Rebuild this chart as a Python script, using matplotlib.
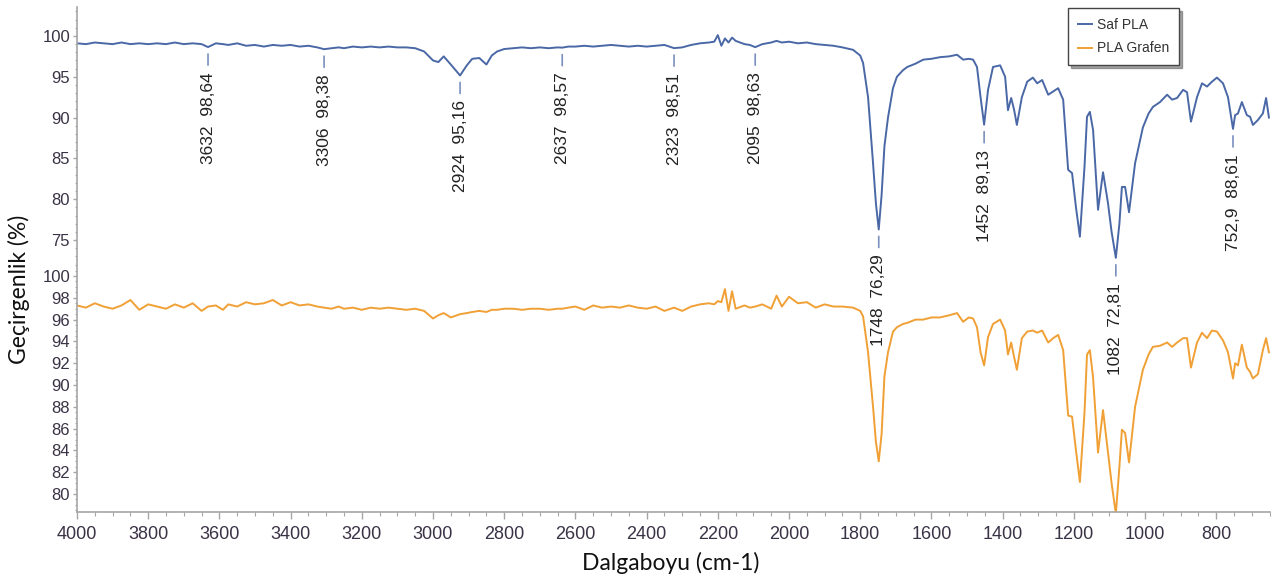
import matplotlib
matplotlib.use('Agg')
import matplotlib.pyplot as plt
from matplotlib.ticker import MultipleLocator

# Wavenumbers (cm-1), shared by both spectra
dalga = [
    4000, 3975, 3950, 3925, 3900, 3875, 3850, 3825, 3800, 3775,
    3750, 3725, 3700, 3675, 3650, 3632, 3610, 3590, 3575, 3550,
    3525, 3500, 3475, 3450, 3425, 3400, 3375, 3350, 3325, 3306,
    3285, 3265, 3250, 3225, 3200, 3175, 3150, 3125, 3100, 3075,
    3050, 3025, 3000, 2985, 2970, 2950, 2924, 2905, 2890, 2870,
    2850, 2835, 2820, 2800, 2775, 2750, 2725, 2700, 2675, 2650,
    2637, 2620, 2600, 2575, 2550, 2525, 2500, 2475, 2450, 2425,
    2400, 2375, 2350, 2323, 2300, 2275, 2250, 2225, 2210, 2200,
    2190, 2180, 2170, 2160, 2150, 2125, 2110, 2095, 2075, 2050,
    2035, 2020, 2000, 1975, 1950, 1925, 1900, 1875, 1850, 1820,
    1800, 1792, 1778, 1764, 1756, 1748, 1740, 1732, 1722, 1708,
    1697, 1680, 1668, 1645, 1623, 1600, 1576, 1550, 1528, 1511,
    1495, 1483, 1472, 1462, 1452, 1441, 1427, 1407, 1393, 1385,
    1376, 1368, 1360, 1346, 1331, 1315, 1303, 1289, 1272, 1258,
    1244, 1230, 1216, 1205, 1194, 1183, 1170, 1163, 1155, 1146,
    1132, 1118, 1104, 1094, 1082, 1072, 1065, 1056, 1045, 1028,
    1006, 990, 978, 958, 938, 924, 910, 893, 882, 871,
    854, 840, 826, 812, 798, 781, 767, 752.9, 747, 739,
    728, 714, 705, 697, 683, 669, 660, 652,
]

# Transmittance (%) - Saf PLA
saf_pla = [
    99.1, 99.0, 99.2, 99.1, 99.0, 99.2, 99.0, 99.1, 99.0, 99.1,
    99.0, 99.2, 99.0, 99.1, 99.0, 98.64, 99.1, 99.0, 98.9, 99.1,
    98.8, 98.9, 98.7, 98.9, 98.8, 98.9, 98.7, 98.8, 98.6, 98.38,
    98.5, 98.6, 98.5, 98.7, 98.6, 98.7, 98.6, 98.7, 98.6, 98.6,
    98.5, 98.1, 97.0, 96.8, 97.5, 96.5, 95.16, 96.4, 97.2, 97.3,
    96.5, 97.6, 98.1, 98.4, 98.5, 98.6, 98.5, 98.6, 98.5, 98.6,
    98.57, 98.7, 98.7, 98.8, 98.7, 98.8, 98.9, 98.8, 98.7, 98.8,
    98.7, 98.8, 98.9, 98.51, 98.6, 98.9, 99.1, 99.2, 99.3, 100.1,
    98.8, 99.7, 99.2, 99.8, 99.4, 99.0, 98.9, 98.63, 99.0, 99.2,
    99.4, 99.2, 99.3, 99.1, 99.2, 99.0, 98.9, 98.8, 98.6, 98.3,
    97.6, 96.7, 92.5, 84.4, 79.5, 76.29, 80.5, 86.5, 90.0, 93.6,
    95.0, 95.8, 96.2, 96.6, 97.1, 97.2, 97.4, 97.5, 97.7, 97.1,
    97.2, 97.1, 96.2, 92.5, 89.13, 93.4, 96.2, 96.4, 95.0, 90.9,
    92.4, 91.0, 89.1, 92.5, 94.4, 94.9, 94.2, 94.6, 92.8, 93.2,
    93.6, 92.2, 83.6, 83.2, 79.0, 75.4, 84.0, 90.1, 90.7, 88.5,
    78.7, 83.3, 79.5, 76.0, 72.81, 77.0, 81.5, 81.5, 78.4, 84.4,
    88.8, 90.5, 91.3, 91.9, 92.8, 92.2, 92.4, 93.4, 93.1, 89.5,
    92.5, 94.2, 93.8, 94.4, 94.9, 94.2, 92.5, 88.61, 90.3, 90.5,
    91.9, 90.3, 90.1, 89.1, 89.7, 90.5, 92.4, 90.0,
]

# Transmittance (%) - PLA Grafen
pla_grafen = [
    97.3, 97.1, 97.5, 97.2, 97.0, 97.3, 97.8, 96.9, 97.4, 97.2,
    97.0, 97.4, 97.1, 97.5, 96.8, 97.2, 97.3, 96.9, 97.4, 97.2,
    97.6, 97.4, 97.5, 97.8, 97.3, 97.6, 97.3, 97.4, 97.2, 97.1,
    97.0, 97.2, 97.0, 97.1, 96.9, 97.1, 97.0, 97.1, 97.0, 96.9,
    97.0, 96.8, 96.1, 96.4, 96.6, 96.2, 96.5, 96.6, 96.7, 96.8,
    96.7, 96.9, 96.9, 97.0, 97.0, 96.9, 97.0, 97.0, 96.9, 97.0,
    97.0, 97.1, 97.2, 96.9, 97.3, 97.1, 97.2, 97.1, 97.3, 97.1,
    97.0, 97.2, 96.8, 97.1, 96.8, 97.2, 97.4, 97.5, 97.4, 97.7,
    97.6, 98.8, 96.8, 98.6, 97.0, 97.3, 97.1, 97.2, 97.4, 97.0,
    98.2, 97.2, 98.1, 97.5, 97.6, 97.1, 97.4, 97.2, 97.2, 97.1,
    96.8, 96.3, 93.0, 88.0, 84.8, 83.0, 85.5, 90.8, 93.0, 94.9,
    95.3, 95.6, 95.7, 96.0, 96.0, 96.2, 96.2, 96.4, 96.6, 95.8,
    96.2, 96.1, 95.3, 93.0, 91.8, 94.4, 95.6, 96.0, 95.0, 92.8,
    93.9, 92.6, 91.4, 94.3, 94.9, 95.0, 94.8, 95.0, 93.9, 94.3,
    94.6, 93.2, 87.2, 87.1, 84.0, 81.1, 87.5, 92.8, 93.2, 90.7,
    83.8, 87.7, 83.8, 81.0, 78.2, 82.5, 85.9, 85.6, 82.9, 88.0,
    91.4, 92.8, 93.5, 93.6, 93.9, 93.5, 93.9, 94.3, 94.3, 91.6,
    93.9, 94.8, 94.3, 95.0, 94.9, 94.1, 93.0, 90.6, 92.0, 91.8,
    93.7, 91.6, 91.2, 90.6, 91.0, 93.2, 94.3, 93.0,
]

# Labelled peaks of Saf PLA
pik_dalga = [3632, 3306, 2924, 2637, 2323, 2095, 1748, 1452, 1082, 752.9]
pik_deger = [98.64, 98.38, 95.16, 98.57, 98.51, 98.63, 76.29, 89.13, 72.81, 88.61]
pik_etiket = ['3632  98,64', '3306  98,38', '2924  95,16', '2637  98,57',
              '2323  98,51', '2095  98,63', '1748  76,29', '1452  89,13',
              '1082  72,81', '752,9  88,61']

MAVI = '#4a68a6'
TURUNCU = '#f0a035'
GRI = '#a6a6a6'
YAZI = '#3a3245'
TICK_FONT = ['Liberation Sans Narrow', 'Liberation Sans']

W, H = 1274, 580
fig = plt.figure(figsize=(W / 100, H / 100), dpi=100)
ax1 = fig.add_axes([77 / W, 1 - 259 / H, 1193 / W, 252 / H])
ax2 = fig.add_axes([77 / W, 1 - 512 / H, 1193 / W, 252 / H])
ax2.set_facecolor('none')

l1, = ax1.plot(dalga, saf_pla, color=MAVI, linewidth=1.4, label='Saf PLA')
l2, = ax2.plot(dalga, pla_grafen, color=TURUNCU, linewidth=1.4, label='PLA Grafen')

for ax in (ax1, ax2):
    ax.set_xlim(4000, 649)
    for s in ('top', 'right'):
        ax.spines[s].set_visible(False)
    for s in ('left', 'bottom'):
        ax.spines[s].set_color(GRI)
        ax.spines[s].set_linewidth(1.2)
    ax.tick_params(axis='y', which='major', length=3, width=1, color=GRI,
                   labelcolor=YAZI, labelsize=12, pad=2)
    ax.tick_params(axis='y', which='minor', length=1.5, width=0.8, color=GRI)

ax1.spines['bottom'].set_visible(False)
ax1.tick_params(axis='x', which='both', bottom=False, labelbottom=False)
ax1.set_ylim(72.67, 103.55)
ax1.yaxis.set_major_locator(MultipleLocator(5))
ax1.yaxis.set_minor_locator(MultipleLocator(1))

ax2.set_ylim(78.35, 101.47)
ax2.yaxis.set_major_locator(MultipleLocator(2))
ax2.yaxis.set_minor_locator(MultipleLocator(0.5))
ax2.xaxis.set_major_locator(MultipleLocator(200))
ax2.xaxis.set_minor_locator(MultipleLocator(50))
ax2.tick_params(axis='x', which='major', length=5, width=1, color=GRI,
                labelcolor=YAZI, labelsize=13, pad=5)
ax2.tick_params(axis='x', which='minor', length=3, width=0.8, color=GRI)

for ax in (ax1, ax2):
    for lab in ax.get_xticklabels() + ax.get_yticklabels():
        lab.set_family(TICK_FONT)

# peak markers and labels
for wn, t, etiket in zip(pik_dalga, pik_deger, pik_etiket):
    ax1.annotate('', xy=(wn, t), xytext=(0, -13), textcoords='offset points',
                 arrowprops=dict(arrowstyle='-', color='#7a8fbd', lw=1.2,
                                 shrinkA=0, shrinkB=5),
                 annotation_clip=False)
    ax1.annotate(etiket, xy=(wn, t), xytext=(0, -18), textcoords='offset points',
                 rotation=90, ha='center', va='top', fontsize=12.5,
                 family='Liberation Sans', color='#222222',
                 annotation_clip=False)

fig.text(19 / W, 1 - 289 / H, 'Geçirgenlik (%)', rotation=90, ha='center',
         va='center', fontsize=16.5, family='Lato', color='#111111')
fig.text(671 / W, 1 - 563 / H, 'Dalgaboyu (cm-1)', ha='center', va='center',
         fontsize=16.5, family='Lato', color='#111111')

leg = fig.legend(handles=[l1, l2], loc='upper left',
                 bbox_to_anchor=(1068 / W, 1 - 8 / H), borderaxespad=0,
                 frameon=True, fancybox=False, shadow=True, handlelength=1.0,
                 handletextpad=0.4, borderpad=0.7, labelspacing=0.7,
                 prop={'family': 'Liberation Sans', 'size': 10})
leg.get_frame().set_edgecolor('#444444')
leg.get_frame().set_linewidth(1.0)
for t in leg.get_texts():
    t.set_color('#333333')

fig.savefig('out.png', dpi=100)
